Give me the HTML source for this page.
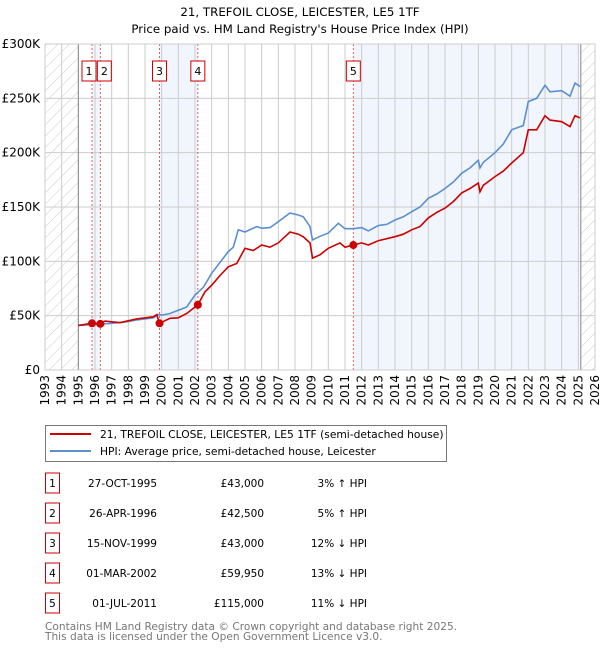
<!DOCTYPE html>
<html><head><meta charset="utf-8"><style>
body{margin:0;background:#fff;font-family:"DejaVu Sans","Liberation Sans",sans-serif;}
svg text{font-family:"DejaVu Sans","Liberation Sans",sans-serif;}
</style></head><body>
<svg id="c" width="600" height="650" xmlns="http://www.w3.org/2000/svg">
<defs><pattern id="hatch" width="8" height="8" patternUnits="userSpaceOnUse" patternTransform="rotate(45)"><line x1="0" y1="0" x2="0" y2="8" stroke="#ccc" stroke-width="1"/></pattern></defs>
<text x="300" y="16" text-anchor="middle" font-size="11.8">21, TREFOIL CLOSE, LEICESTER, LE5 1TF</text>
<text x="300" y="33" text-anchor="middle" font-size="11.8">Price paid vs. HM Land Registry's House Price Index (HPI)</text>
<g id="plot"></g>
<g>
<rect x="45.5" y="425.5" width="401" height="36" fill="#fff" stroke="#777"/>
<line x1="50" y1="434" x2="91" y2="434" stroke="#cc0000" stroke-width="2"/>
<text x="100" y="438" font-size="10.7">21, TREFOIL CLOSE, LEICESTER, LE5 1TF (semi-detached house)</text>
<line x1="50" y1="451" x2="91" y2="451" stroke="#5b8fd0" stroke-width="2"/>
<text x="100" y="455" font-size="10.7">HPI: Average price, semi-detached house, Leicester</text>
</g>
<g id="table" font-size="10.5"></g>
<text x="45" y="630" font-size="10.6" fill="#777">Contains HM Land Registry data © Crown copyright and database right 2025.</text>
<text x="45" y="640" font-size="10.6" fill="#777">This data is licensed under the Open Government Licence v3.0.</text>
</svg>
<script>
const hpiYears=[1995,1996,1997,1998,1998.5,1999,1999.5,1999.8,2000,2000.5,2001,2001.5,2002,2002.5,2003,2003.5,2004,2004.3,2004.6,2005,2005.7,2006,2006.5,2007,2007.7,2008.2,2008.5,2008.9,2009.05,2009.5,2010,2010.6,2011,2011.5,2012,2012.4,2013,2013.5,2014,2014.5,2015,2015.5,2016,2016.5,2017,2017.5,2018,2018.5,2019,2019.1,2019.3,2020,2020.5,2021,2021.7,2022,2022.5,2023,2023.3,2024,2024.5,2024.8,2025.1];
const hpiValues=[41,42,43,44.5,46,47,48,51,50.5,52,55,58,69,76,89,99,109,113,129,127,132,130.5,131,136.5,144.5,142.6,141,132,119.6,123,126,135,130,130,131,128,133,134,138,141,145.7,150,158,162,167,173,181,186,193,186,191,200,208,221,225,247,250,262,256,257,252,264,261];
const ppYears=[1995,1995.82,1996.32,1996.6,1997.5,1998.5,1999.5,1999.7,1999.87,2000.5,2001,2001.5,2002.17,2002.6,2003,2003.5,2004,2004.5,2005,2005.5,2006,2006.5,2007,2007.7,2008.2,2008.5,2008.9,2009.05,2009.5,2010,2010.7,2011,2011.5,2012,2012.4,2013,2014,2014.5,2015,2015.5,2016,2016.5,2017,2017.5,2018,2018.5,2019,2019.1,2019.3,2020,2020.5,2021,2021.7,2022,2022.5,2023,2023.3,2024,2024.5,2024.8,2025.1];
const ppValues=[41,43,42.5,45,43.5,47,49,51,43,47.6,48,52,59.95,72,78,87,95,98,112,110,115,113,117,127,125,122.6,117,103,106,112,117,113,115,117,115,119,122.7,125,129,132,140,145,149,155,163,167,172,164,170,178,183,190.5,200,221,221,234,230,228.5,224,234,232];
const saleLabels=["1","2","3","4","5"];
const saleYears=[1995.82,1996.32,1999.87,2002.17,2011.5];
const saleValues=[43,42.5,43,59.95,115];
const saleDates=["27-OCT-1995","26-APR-1996","15-NOV-1999","01-MAR-2002","01-JUL-2011"];
const salePrices=["£43,000","£42,500","£43,000","£59,950","£115,000"];
const saleDiffs=["3% ↑ HPI","5% ↑ HPI","12% ↓ HPI","13% ↓ HPI","11% ↓ HPI"];
const yTicks=[0,50,100,150,200,250,300];
const yTickLabels=["£0","£50K","£100K","£150K","£200K","£250K","£300K"];
const xStart=1993,xEnd=2026,dataStart=1995,dataEnd=2025.15;

const L=45,R=595,T=44,B=370;
const X=y=>L+(y-xStart)/(xEnd-xStart)*(R-L);
const Y=v=>B-v/300*(B-T);
const NS="http://www.w3.org/2000/svg";
const plot=document.getElementById('plot');
function mk(tag,attrs,parent){const e=document.createElementNS(NS,tag);for(const k in attrs)e.setAttribute(k,attrs[k]);(parent||plot).appendChild(e);return e;}

let r;
r=mk('rect',{x:L,y:T,width:R-L,height:B-T,fill:'#fff'});


const bands=[[saleYears[0],saleYears[1]],[saleYears[2],saleYears[3]],[saleYears[4],dataEnd]];
bands.forEach(b=>{const e=mk('rect',{x:X(b[0]),y:T,width:X(b[1])-X(b[0]),height:B-T,fill:'#eef3fc',opacity:0.8});

});
r=mk('rect',{x:L,y:T,width:X(dataStart)-L,height:B-T,fill:'url(#hatch)'});


r=mk('rect',{x:X(dataEnd),y:T,width:R-X(dataEnd),height:B-T,fill:'url(#hatch)'});


for(let y=xStart;y<=xEnd;y++){const e=mk('line',{x1:X(y),x2:X(y),y1:T,y2:B,stroke:'#ccc','stroke-width':1});


const t=mk('text',{x:0,y:0,'font-size':12,'text-anchor':'end',transform:`translate(${X(y)+4},${B+5}) rotate(-90)`});
t.textContent=y;

}
yTicks.forEach((v,i)=>{const e=mk('line',{x1:L,x2:R,y1:Y(v),y2:Y(v),stroke:'#ccc','stroke-width':1});


const t=mk('text',{x:40,y:Y(v)+4,'font-size':12,'text-anchor':'end'});
t.textContent=yTickLabels[i];

});
r=mk('line',{x1:X(dataStart),x2:X(dataStart),y1:T,y2:B,stroke:'#888'});


r=mk('line',{x1:X(dataEnd),x2:X(dataEnd),y1:T,y2:B,stroke:'#888'});


saleYears.forEach((s,i)=>{const e=mk('line',{x1:X(s),x2:X(s),y1:T,y2:B,stroke:'#e06060','stroke-dasharray':'2,2'});

});
const path=(xs,vs)=>xs.map((x,i)=>(i?'L':'M')+X(x).toFixed(1)+','+Y(vs[i]).toFixed(1)).join('');
r=mk('path',{d:path(hpiYears,hpiValues),fill:'none',stroke:'#5b8fd0','stroke-width':1.6});


r=mk('path',{d:path(ppYears,ppValues),fill:'none',stroke:'#cc0000','stroke-width':1.6});


saleYears.forEach((s,i)=>{const e=mk('circle',{cx:X(s),cy:Y(saleValues[i]),r:4,fill:'#cc0000'});


const g=mk('g',{});


const lx=X(s)+(i===0?-3:(i===1?4:0));
mk('rect',{x:lx-7,y:61,width:14,height:20,fill:'#fff',stroke:'#cc0000'},g);
const t=mk('text',{x:lx,y:75,'font-size':11,'text-anchor':'middle'},g);t.textContent=saleLabels[i];});
r=mk('rect',{x:L,y:T,width:R-L,height:B-T,fill:'none',stroke:'#ccc'});
const tb=document.getElementById('table');
saleLabels.forEach((lab,i)=>{const cy=483+i*30;
const g=mk('g',{},tb);


mk('rect',{x:45.5,y:cy-10,width:14,height:20,fill:'#fff',stroke:'#cc0000'},g);
let t=mk('text',{x:52.5,y:cy+4,'text-anchor':'middle'},g);t.textContent=lab;
t=mk('text',{x:157,y:cy+4,'text-anchor':'end'},g);t.textContent=saleDates[i];
t=mk('text',{x:264,y:cy+4,'text-anchor':'end'},g);t.textContent=salePrices[i];
t=mk('text',{x:367,y:cy+4,'text-anchor':'end'},g);t.textContent=saleDiffs[i];});
</script>
</body></html>
